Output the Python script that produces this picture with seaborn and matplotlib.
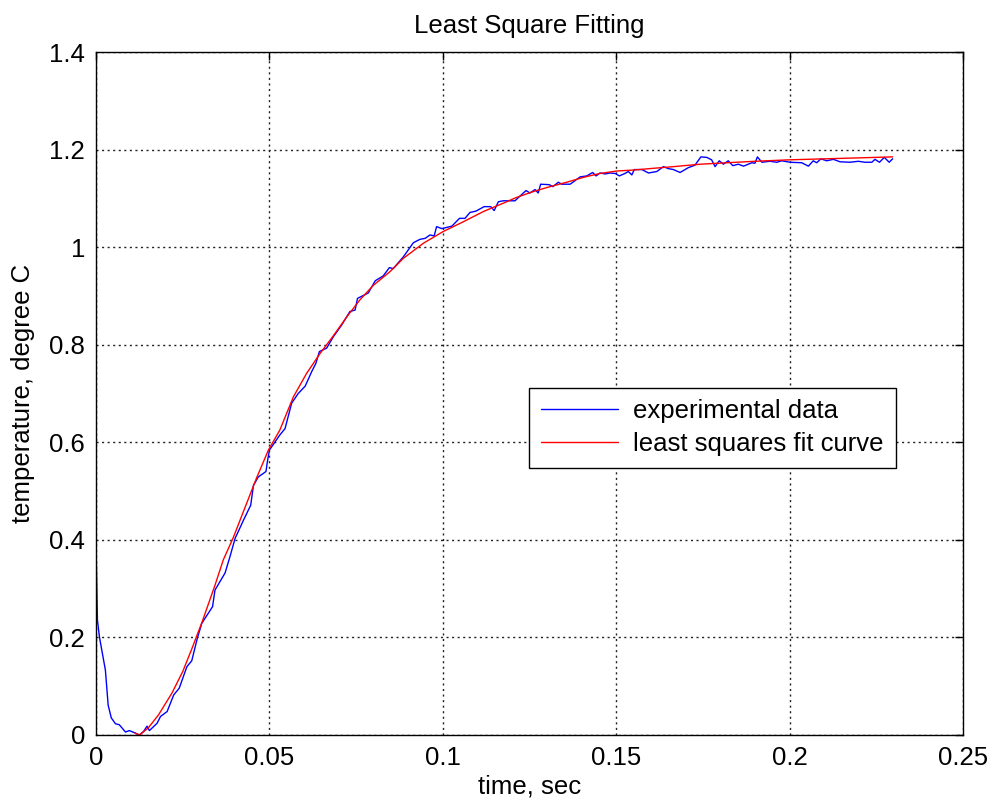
import pandas as pd
import matplotlib
matplotlib.use('Agg')
import matplotlib.pyplot as plt
import seaborn as sns

t_exp = [0.0000, 0.0004, 0.0010, 0.0027, 0.0035, 0.0044, 0.0056, 0.0067, 0.0085, 0.0096,
         0.0113, 0.0125, 0.0137, 0.0147, 0.0154, 0.0176, 0.0186, 0.0205, 0.0224, 0.0240,
         0.0262, 0.0276, 0.0292, 0.0305, 0.0336, 0.0343, 0.0372, 0.0386, 0.0401, 0.0425,
         0.0446, 0.0454, 0.0468, 0.0490, 0.0494, 0.0500, 0.0530, 0.0545, 0.0564, 0.0583,
         0.0603, 0.0622, 0.0634, 0.0644, 0.0665, 0.0684, 0.0708, 0.0732, 0.0747, 0.0754,
         0.0785, 0.0805, 0.0828, 0.0846, 0.0857, 0.0886, 0.0915, 0.0934, 0.0949, 0.0963,
         0.0975, 0.0982, 0.0997, 0.1026, 0.1048, 0.1064, 0.1078, 0.1096, 0.1119, 0.1138,
         0.1148, 0.1160, 0.1174, 0.1208, 0.1223, 0.1240, 0.1251, 0.1266, 0.1275, 0.1282,
         0.1307, 0.1317, 0.1333, 0.1343, 0.1367, 0.1396, 0.1415, 0.1432, 0.1442, 0.1453,
         0.1468, 0.1482, 0.1497, 0.1509, 0.1525, 0.1535, 0.1545, 0.1552, 0.1574, 0.1593,
         0.1617, 0.1636, 0.1650, 0.1665, 0.1684, 0.1708, 0.1727, 0.1744, 0.1761, 0.1775,
         0.1785, 0.1797, 0.1809, 0.1823, 0.1836, 0.1852, 0.1867, 0.1891, 0.1900, 0.1907,
         0.1920, 0.1943, 0.1963, 0.1977, 0.2001, 0.2035, 0.2054, 0.2068, 0.2078, 0.2090,
         0.2107, 0.2126, 0.2145, 0.2174, 0.2198, 0.2217, 0.2237, 0.2246, 0.2259, 0.2273,
         0.2287, 0.2297]
y_exp = [0.390, 0.236, 0.200, 0.133, 0.061, 0.035, 0.023, 0.021, 0.006, 0.009,
         0.004, 0.000, 0.007, 0.018, 0.009, 0.024, 0.038, 0.048, 0.082, 0.096,
         0.140, 0.152, 0.198, 0.229, 0.263, 0.297, 0.332, 0.365, 0.403, 0.440,
         0.471, 0.512, 0.529, 0.540, 0.560, 0.584, 0.615, 0.628, 0.680, 0.700,
         0.715, 0.745, 0.762, 0.786, 0.793, 0.816, 0.840, 0.868, 0.871, 0.895,
         0.906, 0.931, 0.941, 0.958, 0.956, 0.980, 1.009, 1.016, 1.018, 1.025,
         1.023, 1.042, 1.038, 1.043, 1.059, 1.059, 1.071, 1.074, 1.083, 1.083,
         1.075, 1.093, 1.095, 1.095, 1.105, 1.116, 1.111, 1.118, 1.111, 1.129,
         1.128, 1.124, 1.133, 1.129, 1.129, 1.144, 1.146, 1.153, 1.146, 1.152,
         1.150, 1.152, 1.151, 1.146, 1.151, 1.155, 1.148, 1.159, 1.159, 1.152,
         1.155, 1.165, 1.161, 1.159, 1.153, 1.163, 1.168, 1.185, 1.184, 1.179,
         1.165, 1.177, 1.170, 1.177, 1.167, 1.170, 1.166, 1.173, 1.172, 1.185,
         1.174, 1.176, 1.174, 1.177, 1.174, 1.173, 1.166, 1.177, 1.173, 1.181,
         1.177, 1.180, 1.175, 1.174, 1.176, 1.174, 1.174, 1.180, 1.174, 1.184,
         1.174, 1.181]

# least squares fit curve
t_fit = [0.0112, 0.0125, 0.0150, 0.0180, 0.0219, 0.0250, 0.0277, 0.0306, 0.0343, 0.0367,
         0.0396, 0.0425, 0.0463, 0.0497, 0.0530, 0.0569, 0.0607, 0.0646, 0.0684, 0.0723,
         0.0761, 0.0800, 0.0848, 0.0886, 0.0944, 0.1001, 0.1059, 0.1117, 0.1174, 0.1213,
         0.1261, 0.1309, 0.1357, 0.1405, 0.1453, 0.1501, 0.1549, 0.1597, 0.1665, 0.1742,
         0.1820, 0.1900, 0.2000, 0.2100, 0.2200, 0.2297]
y_fit = [0.004, 0.000, 0.014, 0.041, 0.086, 0.130, 0.178, 0.232, 0.307, 0.359,
         0.405, 0.458, 0.527, 0.584, 0.625, 0.693, 0.741, 0.782, 0.818, 0.857,
         0.892, 0.922, 0.950, 0.977, 1.008, 1.032, 1.052, 1.073, 1.090, 1.102,
         1.114, 1.124, 1.133, 1.143, 1.151, 1.156, 1.158, 1.161, 1.165, 1.170,
         1.173, 1.176, 1.179, 1.181, 1.183, 1.185]

exp_df = pd.DataFrame({'time': t_exp, 'temp': y_exp})
fit_df = pd.DataFrame({'time': t_fit, 'temp': y_fit})

sns.set_style('white')
plt.rcParams['font.family'] = ['Liberation Sans', 'DejaVu Sans']
plt.rcParams['text.color'] = 'black'
plt.rcParams['axes.labelcolor'] = 'black'
fs = 18.5

fig = plt.figure(figsize=(9.91, 8.05), dpi=100)
ax = fig.add_axes([0.0969, 0.087, 0.8749, 0.8484])

sns.lineplot(x='time', y='temp', data=exp_df, color='blue', linewidth=1,
             sort=False, estimator=None, label='experimental data', ax=ax)
sns.lineplot(x='time', y='temp', data=fit_df, color='red', linewidth=1,
             sort=False, estimator=None, label='least squares fit curve', ax=ax)

ax.set_xlim(0, 0.25)
ax.set_ylim(0, 1.4)
ax.set_xticks([0, 0.05, 0.1, 0.15, 0.2, 0.25])
ax.set_xticklabels(['0', '0.05', '0.1', '0.15', '0.2', '0.25'])
ax.set_yticks([0, 0.2, 0.4, 0.6, 0.8, 1, 1.2, 1.4])
ax.set_yticklabels(['0', '0.2', '0.4', '0.6', '0.8', '1', '1.2', '1.4'])
ax.grid(True, color='#222222', linestyle=(0, (1.5, 2.5)), linewidth=1)
ax.tick_params(direction='in', length=6, width=1, top=True, right=True,
               labelsize=fs, colors='black', pad=8)
for s in ax.spines.values():
    s.set_color('black')
    s.set_linewidth(1)

ax.set_title('Least Square Fitting', fontsize=fs, pad=14, color='black')
ax.set_xlabel('time, sec', fontsize=fs, labelpad=3)
ax.set_ylabel('temperature, degree C', fontsize=fs, labelpad=10)

leg = ax.legend(loc='center', bbox_to_anchor=(0.711, 0.45), frameon=True,
                fancybox=False, edgecolor='black', framealpha=1,
                handlelength=3.0, fontsize=fs, borderpad=0.45, labelspacing=0.35,
                handletextpad=0.6, borderaxespad=0)
for txt in leg.get_texts():
    txt.set_color('black')
leg.get_frame().set_linewidth(1)

fig.savefig('out.png', dpi=100)
